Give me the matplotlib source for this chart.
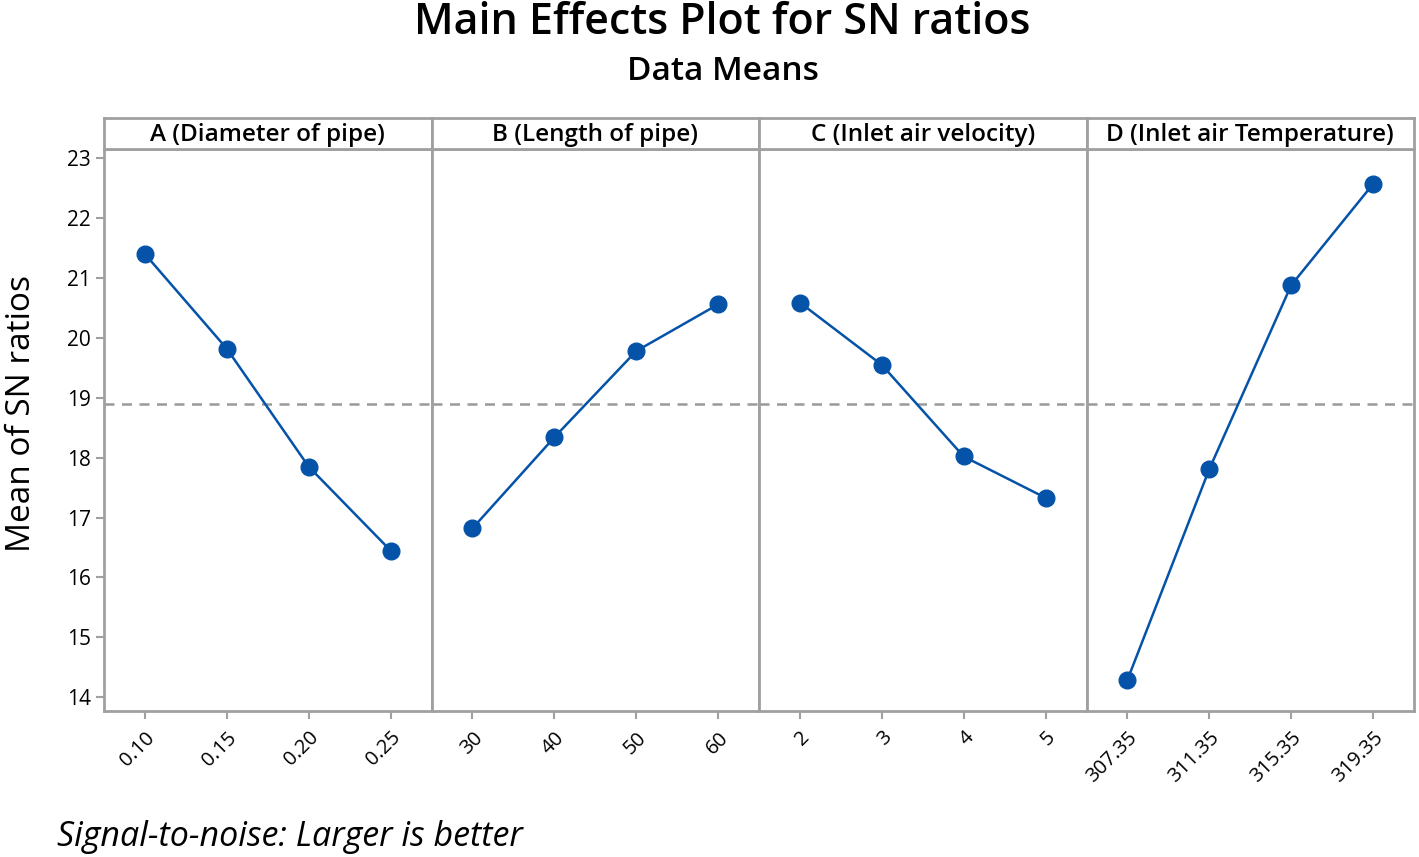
import numpy as np
import matplotlib
matplotlib.use("Agg")
import matplotlib.pyplot as plt

plt.rcParams.update({"font.family": ["Open Sans", "DejaVu Sans"]})

factors = ["A (Diameter of pipe)", "B (Length of pipe)", "C (Inlet air velocity)", "D (Inlet air Temperature)"]
levels_a = ["0.10", "0.15", "0.20", "0.25"]
levels_b = ["30", "40", "50", "60"]
levels_c = ["2", "3", "4", "5"]
levels_d = ["307.35", "311.35", "315.35", "319.35"]
sn_a = [21.40, 19.82, 17.85, 16.45]
sn_b = [16.82, 18.34, 19.78, 20.56]
sn_c = [20.59, 19.55, 18.02, 17.33]
sn_d = [14.29, 17.81, 20.88, 22.57]
grand_mean = 18.89

levels = [levels_a, levels_b, levels_c, levels_d]
values = [sn_a, sn_b, sn_c, sn_d]

GRAY, BLUE = "#a0a0a0", "#0553a8"
W, H = 1419, 857
fig = plt.figure(figsize=(W/100, H/100), dpi=100)

left, right, bottom, top, head = 104, 1414, 711, 149, 118
pw = (right-left)/4
for i in range(4):
    x0 = left + i*pw
    ax = fig.add_axes([x0/W, 1-bottom/H, pw/W, (bottom-top)/H])
    xs = np.arange(1, 5)
    ax.axhline(grand_mean, color="#9a9a9a", ls=(0, (4, 3)), lw=1.8, zorder=1)
    ax.plot(xs, values[i], color=BLUE, lw=1.8, marker="o", ms=12, mec=BLUE, mfc=BLUE, zorder=3)
    ax.set_xlim(0.5, 4.5)
    ax.set_ylim(13.77, 23.155)
    ax.set_xticks(xs)
    ax.set_xticklabels(levels[i], rotation=45, ha="right", rotation_mode="anchor", fontsize=14.5)
    for s in ax.spines.values():
        s.set_color(GRAY); s.set_linewidth(2)
    ax.tick_params(axis="x", colors=GRAY, labelcolor="black", length=6, width=1.5, pad=6)
    if i == 0:
        ax.set_yticks(range(14, 24))
        ax.tick_params(axis="y", colors=GRAY, labelcolor="black", length=6, width=1.5, labelsize=15)
    else:
        ax.tick_params(axis="y", left=False, labelleft=False)
    # header strip
    hx = fig.add_axes([x0/W, 1-top/H, pw/W, (top-head)/H])
    hx.set_xticks([]); hx.set_yticks([])
    for s in hx.spines.values():
        s.set_color(GRAY); s.set_linewidth(2)
    hx.text(0.5, 0.45, factors[i], ha="center", va="center", fontsize=17.5, fontweight="semibold",
            transform=hx.transAxes)

fig.text(722/W, 1-22/H, "Main Effects Plot for SN ratios", ha="center", va="center",
         fontsize=31, fontweight="semibold")
fig.text(723/W, 1-71/H, "Data Means", ha="center", va="center", fontsize=24, fontweight="semibold")
fig.text(22/W, 1-413/H, "Mean of SN ratios", rotation=90, ha="center", va="center", fontsize=24)
fig.text(57/W, 1-837/H, "Signal-to-noise: Larger is better", ha="left", va="center",
         fontsize=24.5, style="italic")

fig.savefig("out.png", dpi=100)
